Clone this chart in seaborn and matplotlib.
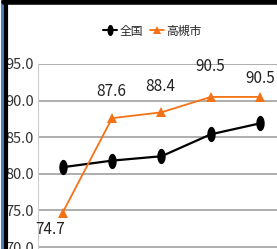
import numpy as np
import pandas as pd
import matplotlib
matplotlib.use("Agg")
import matplotlib.pyplot as plt
import seaborn as sns
from matplotlib.lines import Line2D

categories = ["1", "2", "3", "4", "5"]
national = [80.9, 81.8, 82.4, 85.4, 86.9]
takatsuki = [74.7, 87.6, 88.4, 90.5, 90.5]
series_names = ["全国", "高槻市"]
yticks = [70.0, 75.0, 80.0, 85.0, 90.0, 95.0]

df = pd.DataFrame({
    "x": list(range(len(categories))) * 2,
    "value": national + takatsuki,
    "series": [series_names[0]] * len(categories) + [series_names[1]] * len(categories),
})

sns.set_style("white")
plt.rcParams["font.family"] = ["Liberation Sans Narrow", "Noto Sans CJK JP", "DejaVu Sans"]

fig = plt.figure(figsize=(2.77, 2.49), dpi=100)
ax = fig.add_axes([0.137, -0.139, 0.892, 0.882])

# tall oval marker for the national series
t = np.linspace(0, 2 * np.pi, 40)
oval = list(zip(0.55 * np.cos(t), np.sin(t)))

palette = {series_names[0]: "black", series_names[1]: "#F47216"}
sns.lineplot(data=df[df["series"] == series_names[0]], x="x", y="value",
             color=palette[series_names[0]], marker=oval, markersize=11,
             markeredgewidth=0, linewidth=1.6, ax=ax, legend=False)
sns.lineplot(data=df[df["series"] == series_names[1]], x="x", y="value",
             color=palette[series_names[1]], marker="^", markersize=7,
             markeredgewidth=0, linewidth=1.3, ax=ax, legend=False)

# label offsets in pixels (dx, dy), as Excel placed them
offsets_px = [(-13, -17), (-1, 27), (-1, 26), (-1, 30), (0, 18)]
for i, v in enumerate(takatsuki):
    dx, dy = offsets_px[i]
    ax.annotate(f"{v:.1f}", (i, v), xytext=(dx * 0.72, dy * 0.72), textcoords="offset points",
                ha="center", va="center", fontsize=11, color="#222222")

ax.set_xlim(-0.5, 4.5)
ax.set_ylim(65, 95)
ax.set_yticks(yticks)
ax.set_yticklabels([f"{v:.1f}" for v in yticks], fontsize=10.5, color="#333333")
ax.set_xticks([])
ax.set_xlabel("")
ax.set_ylabel("")
ax.tick_params(axis="y", length=0, pad=3)
ax.yaxis.grid(True, color="#999999", linewidth=1.1)
for s in ["top", "right", "bottom"]:
    ax.spines[s].set_visible(False)
ax.spines["left"].set_color("#cccccc")
ax.spines["left"].set_linewidth(0.8)

handles = [
    Line2D([], [], color="black", marker=oval, markersize=8, linewidth=1.5, markeredgewidth=0),
    Line2D([], [], color="#F47216", marker="^", markersize=6, linewidth=1.3, markeredgewidth=0),
]
fig.legend(handles, series_names, loc="center", bbox_to_anchor=(0.55, 0.875),
           ncol=2, frameon=False, handlelength=1.2, handletextpad=0.2,
           columnspacing=0.6, prop={"family": ["Noto Sans CJK JP", "DejaVu Sans"], "size": 8.5})

# window frame edges
fig.add_artist(Line2D([0.006, 0.006], [0, 1], color="#4F81BD", linewidth=2.2))
fig.add_artist(Line2D([0.02, 0.02], [0, 1], color="black", linewidth=3))
fig.add_artist(Line2D([0.015, 1], [0.99, 0.99], color="black", linewidth=4))

fig.savefig("out.png", dpi=100)
